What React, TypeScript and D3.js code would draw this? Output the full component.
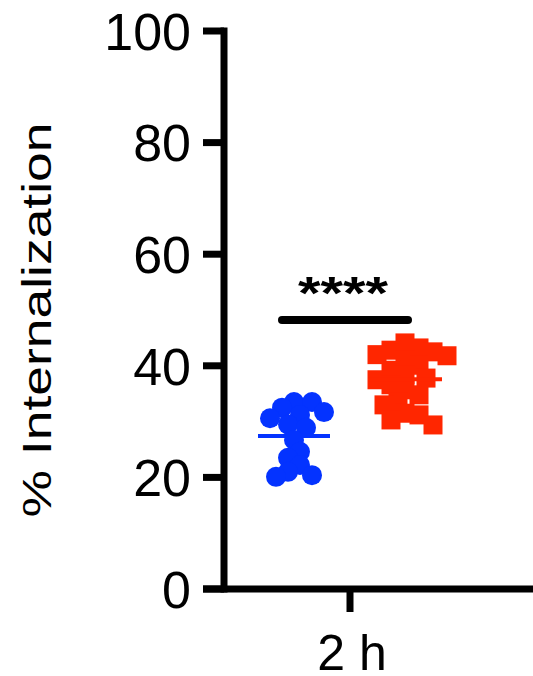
import React from "react";
import * as d3 from "d3";

const categories = ["2 h"];
const seriesNames = ["Control", "Treated"];
const seriesColors = ["#0433FF", "#FF2600"];
const blueValues = [33.5, 33.5, 32.5, 31.7, 31.2, 30.6, 29.5, 28.9, 26.7, 24.6, 23.5, 22.2, 21.0, 20.4, 20.1];
const redValues = [44.1, 43.2, 42.8, 42.5, 42.0, 41.8, 41.0, 40.1, 39.2, 38.4, 37.8, 37.5, 36.6, 35.7, 34.8, 33.5, 33.0, 31.5, 31.2, 30.3, 29.4];
const meanValues = [27.4, 37.6];
const yTicks = [0, 20, 40, 60, 80, 100];
const significance = { label: "****", value: 48.2 };

const W = 533;
const H = 676;

function beeswarm(values: number[], y: (v: number) => number, minDist: number, step: number) {
  const sorted = values.map((v, i) => ({ v, i })).sort((a, b) => b.v - a.v);
  const placed: { x: number; y: number; v: number }[] = [];
  for (const p of sorted) {
    const py = y(p.v);
    let chosen = 0;
    for (let k = 0; k < 40; k++) {
      const off = (k % 2 === 1 ? 1 : -1) * Math.ceil(k / 2) * step;
      const ok = placed.every((q) => Math.hypot(q.x - off, q.y - py) >= minDist);
      if (ok) { chosen = off; break; }
    }
    placed.push({ x: chosen, y: py, v: p.v });
  }
  return placed;
}

export default function App() {
  const y = d3.scaleLinear().domain([0, 100]).range([589, 31]);
  const x = d3.scaleBand().domain(categories).range([203, 497]);
  const sub = d3.scalePoint().domain(seriesNames).range([-56, 55]);
  const cx = x(categories[0])! + x.bandwidth() / 2;
  const axisW = 7;
  const blue = beeswarm(blueValues, y, 13, 6);
  const red = beeswarm(redValues, y, 13, 7);
  const bx = cx + sub(seriesNames[0])!;
  const rx = cx + sub(seriesNames[1])!;
  const font = "'Liberation Sans', Arial, Helvetica, sans-serif";
  return (
    <svg width={W} height={H} style={{ position: "absolute", left: 0, top: 0 }} fontFamily={font}>
      {/* y axis */}
      <line x1={224} x2={224} y1={y(100) - 3.5} y2={y(0) + 3.5} stroke="#000" strokeWidth={axisW} />
      {yTicks.map((t) => (
        <g key={t}>
          <line x1={203} x2={224} y1={y(t)} y2={y(t)} stroke="#000" strokeWidth={axisW} />
          <text x={191} y={y(t)} dy="0.36em" textAnchor="end" fontSize={52}>{t}</text>
        </g>
      ))}
      {/* x axis */}
      <line x1={203} x2={W} y1={y(0)} y2={y(0)} stroke="#000" strokeWidth={axisW} />
      <line x1={cx} x2={cx} y1={y(0)} y2={612} stroke="#000" strokeWidth={axisW} />
      <text x={cx + 2} y={670} textAnchor="middle" fontSize={50}>{categories[0]}</text>
      {/* y label */}
      <text transform={`translate(51,320) rotate(-90)`} textAnchor="middle" fontSize={41}
        textLength={395} lengthAdjust="spacingAndGlyphs">% Internalization</text>
      {/* points */}
      {blue.map((p, i) => (
        <circle key={"b" + i} cx={bx + p.x} cy={p.y} r={10} fill={seriesColors[0]} />
      ))}
      {red.map((p, i) => (
        <rect key={"r" + i} x={rx + p.x - 9.5} y={p.y - 9.5} width={19} height={19} fill={seriesColors[1]} />
      ))}
      {/* means */}
      <line x1={bx - 36} x2={bx + 36} y1={y(meanValues[0])} y2={y(meanValues[0])} stroke={seriesColors[0]} strokeWidth={4} />
      <line x1={rx - 37} x2={rx + 37} y1={y(meanValues[1])} y2={y(meanValues[1])} stroke={seriesColors[1]} strokeWidth={4} />
      {/* significance */}
      <line x1={282} x2={408} y1={y(significance.value)} y2={y(significance.value)} stroke="#000" strokeWidth={8} strokeLinecap="round" />
      <text x={343} y={309} textAnchor="middle" fontSize={46} fontWeight="bold"
        textLength={90} lengthAdjust="spacingAndGlyphs">{significance.label}</text>
    </svg>
  );
}
